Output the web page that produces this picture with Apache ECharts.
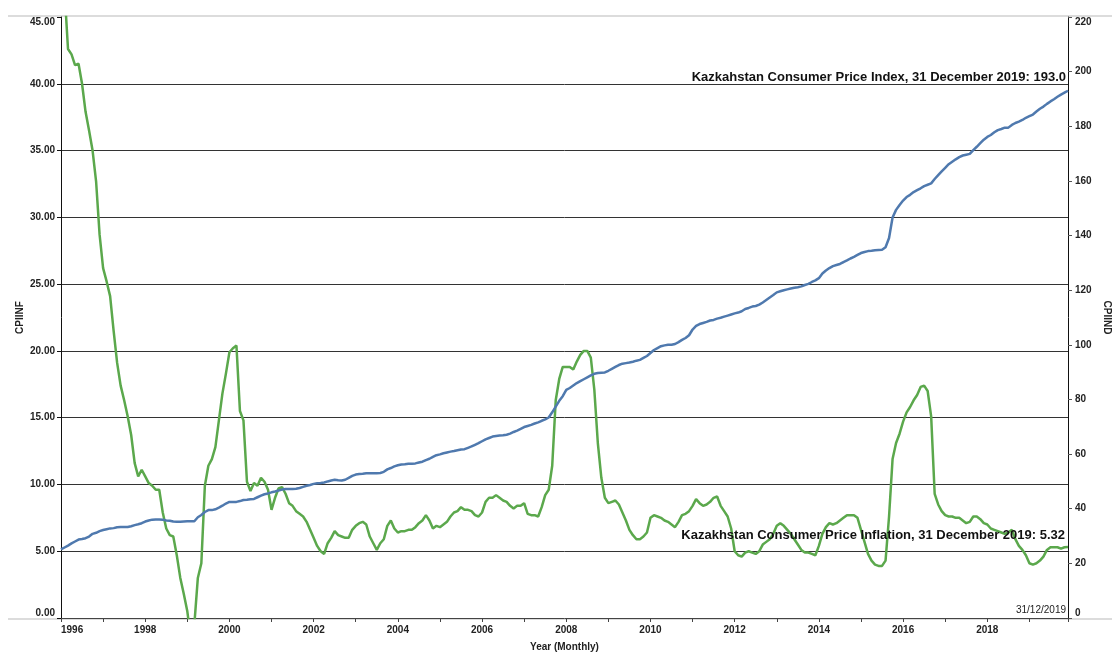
<!DOCTYPE html>
<html lang="en">

<head>
  <meta charset="UTF-8" />
  <title>Kazakhstan CPI</title>
  <style>
    html, body { margin: 0; padding: 0; background: #fff; }
  </style>
</head>

<body>
  <div id="main" style="width: 1112px; height: 652px;"></div>
  <script src="https://cdn.jsdelivr.net/npm/echarts@6/dist/echarts.min.js"></script>
  <script type="text/javascript">
    // monthly series, Jan 1996 .. Dec 2019
    const startYear = 1996

    // CPIINF - consumer price inflation, % (left axis)
    const cpiInf = [
      60, 47, 42.6, 42.2, 41.4, 41.5, 40.0, 37.9, 36.5, 35.0, 32.7, 28.7,
      26.2, 25.2, 24.1, 21.5, 19.1, 17.4, 16.3, 15.1, 13.7, 11.6, 10.6, 11.1,
      10.6, 10.1, 9.9, 9.6, 9.6, 7.9, 6.7, 6.2, 6.1, 4.7, 3.0, 1.8,
      0.5, -1.5, -0.5, 3.0, 4.1, 9.9, 11.4, 11.9, 12.8, 14.8, 16.8, 18.3,
      19.9, 20.2, 20.4, 15.5, 14.8, 10.2, 9.5, 10.1, 9.9, 10.5, 10.2, 9.6,
      8.1, 9.0, 9.7, 9.8, 9.3, 8.6, 8.4, 8.0, 7.8, 7.6, 7.2, 6.6,
      6.0, 5.4, 5.0, 4.8, 5.6, 6.0, 6.5, 6.2, 6.1, 6.0, 6.0, 6.6,
      6.9, 7.1, 7.2, 7.0, 6.1, 5.6, 5.1, 5.6, 5.9, 6.9, 7.3, 6.7,
      6.4, 6.5, 6.5, 6.6, 6.6, 6.8, 7.1, 7.3, 7.7, 7.3, 6.7, 6.9,
      6.8, 7.0, 7.2, 7.6, 7.9, 8.0, 8.3, 8.1, 8.1, 8.0, 7.7, 7.6,
      7.9, 8.7, 9.0, 9.0, 9.2, 9.0, 8.8, 8.7, 8.4, 8.2, 8.4, 8.4,
      8.6, 7.8, 7.7, 7.7, 7.6, 8.3, 9.2, 9.6, 11.4, 16.3, 17.9, 18.8,
      18.8, 18.8, 18.6, 19.2, 19.7, 20.0, 20.0, 19.5, 17.1, 13.1, 10.5, 9.0,
      8.6, 8.7, 8.8, 8.5, 7.9, 7.3, 6.6, 6.2, 5.9, 5.9, 6.1, 6.4,
      7.5, 7.7, 7.6, 7.5, 7.3, 7.2, 7.0, 6.8, 7.2, 7.7, 7.8, 8.0,
      8.4, 8.9, 8.6, 8.4, 8.5, 8.7, 9.0, 9.1, 8.4, 8.0, 7.6, 6.7,
      5.0, 4.7, 4.6, 4.9, 5.0, 4.9, 4.8, 5.0, 5.5, 5.7, 5.9, 6.3,
      6.9, 7.1, 6.9, 6.6, 6.3, 5.9, 5.5, 5.1, 4.9, 4.9, 4.8, 4.7,
      5.4, 6.3, 6.8, 7.1, 7.0, 7.1, 7.3, 7.5, 7.7, 7.7, 7.7, 7.5,
      6.6, 5.7, 4.8, 4.3, 4.0, 3.9, 3.9, 4.3, 7.6, 11.9, 13.1, 13.8,
      14.7, 15.4, 15.8, 16.3, 16.7, 17.3, 17.4, 17.0, 15.1, 9.3, 8.5, 8.0,
      7.7, 7.6, 7.6, 7.5, 7.5, 7.3, 7.1, 7.2, 7.6, 7.6, 7.4, 7.1,
      7.0, 6.7, 6.6, 6.5, 6.4, 6.3, 6.4, 6.6, 5.9, 5.4, 5.1, 4.7,
      4.1, 4.0, 4.1, 4.3, 4.6, 5.1, 5.3, 5.3, 5.3, 5.2, 5.3, 5.32
    ]

    // CPIIND - consumer price index (right axis)
    const cpiInd = [
      25.1, 25.8, 26.5, 27.3, 28.0, 28.7, 28.9, 29.2, 29.8, 30.8, 31.2, 31.8,
      32.2, 32.5, 32.8, 32.9, 33.2, 33.3, 33.3, 33.3, 33.6, 34.0, 34.3, 34.7,
      35.3, 35.7, 36.0, 36.1, 36.1, 36.0, 35.7, 35.6, 35.3, 35.2, 35.2, 35.3,
      35.4, 35.4, 35.4, 36.9, 37.7, 38.8, 39.5, 39.5, 39.8, 40.4, 41.1, 41.9,
      42.5, 42.5, 42.5, 42.8, 43.2, 43.3, 43.5, 43.6, 44.2, 44.8, 45.3, 45.6,
      46.0, 46.3, 46.7, 47.0, 47.2, 47.2, 47.2, 47.3, 47.6, 48.0, 48.4, 48.7,
      49.1, 49.3, 49.4, 49.6, 50.0, 50.3, 50.6, 50.4, 50.3, 50.6, 51.3, 52.0,
      52.5, 52.7, 52.8, 53.0, 53.0, 53.0, 53.0, 53.1, 53.5, 54.4, 54.9, 55.5,
      55.9, 56.2, 56.3, 56.5, 56.5, 56.6, 56.9, 57.2, 57.8, 58.3, 59.0, 59.6,
      59.9, 60.3, 60.6, 60.9, 61.1, 61.4, 61.7, 61.8, 62.3, 62.8, 63.4, 64.0,
      64.7, 65.4, 65.9, 66.4, 66.6, 66.8, 66.9, 67.1, 67.5, 68.1, 68.6, 69.2,
      69.9, 70.3, 70.7, 71.2, 71.6, 72.2, 72.7, 73.4, 75.3, 77.4, 79.5, 81.2,
      83.5, 84.2, 85.1, 86.0, 86.7, 87.4, 88.1, 88.8, 89.4, 89.7, 89.8, 89.9,
      90.5, 91.2, 91.9, 92.6, 93.1, 93.3, 93.5, 93.8, 94.2, 94.5, 95.2, 95.9,
      97.0, 98.1, 98.8, 99.5, 99.8, 100.0, 100.0, 100.3, 101.0, 101.8, 102.5, 103.5,
      105.6, 106.9, 107.6, 108.0, 108.4, 108.9, 109.1, 109.6, 109.9, 110.3, 110.7, 111.1,
      111.5, 111.8, 112.3, 113.1, 113.5, 114.0, 114.2, 114.7, 115.5, 116.4, 117.3, 118.2,
      119.2, 119.6, 120.0, 120.3, 120.6, 120.9, 121.1, 121.4, 121.9, 122.3, 123.0, 123.6,
      124.4, 126.1, 127.2, 128.1, 128.8, 129.2, 129.6, 130.3, 130.9, 131.6, 132.2, 132.9,
      133.6, 134.0, 134.3, 134.4, 134.6, 134.7, 134.8, 135.7, 139.1, 146.6, 149.4, 151.2,
      152.8, 154.1, 154.9, 155.9, 156.6, 157.3, 158.1, 158.6, 159.1, 160.7, 162.1, 163.5,
      164.8, 166.1, 167.0, 167.9, 168.7, 169.3, 169.6, 169.9, 171.3, 172.5, 173.8, 175.1,
      176.1, 176.8, 177.8, 178.6, 179.0, 179.5, 179.5, 180.5, 181.2, 181.7, 182.3, 183.1,
      183.7, 184.3, 185.4, 186.4, 187.2, 188.2, 189.1, 189.9, 190.8, 191.6, 192.3, 193.0
    ]

    const labelIndex = 'Kazkahstan Consumer Price Index, 31 December 2019: 193.0'
    const labelInflation = 'Kazakhstan Consumer Price Inflation, 31 December 2019: 5.32'
    const lastDate = '31/12/2019'

    const font = 'Arial, "Liberation Sans", sans-serif'
    // month index -> decimal year
    const toYear = i => startYear + i / 12
    const infData = cpiInf.map((v, i) => [toYear(i), v])
    const indData = cpiInd.map((v, i) => [toYear(i), v])
    const lastX = toYear(cpiInf.length - 1)

    let myChart = echarts.init(document.getElementById('main'))

    var option = {
      animation: false,
      backgroundColor: '#fff',
      grid: { left: 61, right: 44, top: 17, bottom: 34, containLabel: false, outerBoundsMode: 'none' },
      xAxis: {
        type: 'value',
        min: startYear,
        max: lastX,
        interval: 1,
        name: 'Year (Monthly)',
        nameLocation: 'middle',
        nameGap: 24,
        nameMoveOverlap: false,
        nameTextStyle: { fontFamily: font, fontWeight: 'bold', fontSize: 10, color: '#222' },
        axisLine: { lineStyle: { color: '#444', width: 1 } },
        axisTick: { length: 4, lineStyle: { color: '#444' } },
        splitLine: { show: false },
        axisLabel: {
          fontFamily: font, fontWeight: 'bold', fontSize: 10, color: '#222', margin: 7,
          alignMinLabel: 'left',
          formatter: v => (Number.isInteger(v) && v % 2 === 0) ? String(v) : ''
        }
      },
      yAxis: [
        {
          type: 'value',
          position: 'left',
          min: 0,
          max: 45,
          interval: 5,
          name: 'CPIINF',
          nameLocation: 'middle',
          nameGap: 36,
          nameMoveOverlap: false,
          nameTextStyle: { fontFamily: font, fontWeight: 'bold', fontSize: 10, color: '#222' },
          axisLine: { show: true, lineStyle: { color: '#111', width: 1 } },
          axisTick: { show: true, length: 4, lineStyle: { color: '#111' } },
          splitLine: { show: true, showMinLine: false, showMaxLine: false, lineStyle: { color: '#333', width: 1 } },
          axisLabel: {
            fontFamily: font, fontWeight: 'bold', fontSize: 10, color: '#222', margin: 6,
            verticalAlignMinLabel: 'bottom', verticalAlignMaxLabel: 'top',
            formatter: v => v.toFixed(2)
          }
        },
        {
          type: 'value',
          position: 'right',
          min: 0,
          max: 220,
          interval: 20,
          name: 'CPIIND',
          nameLocation: 'middle',
          nameRotate: -90,
          nameGap: 34,
          nameMoveOverlap: false,
          nameTextStyle: { fontFamily: font, fontWeight: 'bold', fontSize: 10, color: '#222' },
          axisLine: { show: true, lineStyle: { color: '#111', width: 1 } },
          axisTick: { show: true, length: 4, lineStyle: { color: '#555' } },
          splitLine: { show: false },
          axisLabel: {
            fontFamily: font, fontWeight: 'bold', fontSize: 10, color: '#222', margin: 7,
            verticalAlignMinLabel: 'bottom', verticalAlignMaxLabel: 'top'
          }
        }
      ],
      series: [
        {
          name: 'CPIINF',
          type: 'line',
          yAxisIndex: 0,
          data: infData,
          showSymbol: false,
          clip: true,
          lineStyle: { color: '#5ba84c', width: 2.5 },
          itemStyle: { color: '#5ba84c' },
          z: 3
        },
        {
          name: 'CPIIND',
          type: 'line',
          yAxisIndex: 1,
          data: indData,
          showSymbol: false,
          clip: true,
          lineStyle: { color: '#4f79ae', width: 2.5 },
          itemStyle: { color: '#4f79ae' },
          z: 4
        }
      ],
      graphic: [
        // light frame lines
        { type: 'line', z: -1, shape: { x1: 8, y1: 16, x2: 1112, y2: 16 }, style: { stroke: '#dcdcdc', lineWidth: 2 } },
        { type: 'line', z: -1, shape: { x1: 8, y1: 619, x2: 1112, y2: 619 }, style: { stroke: '#dcdcdc', lineWidth: 2 } },
        {
          type: 'text', right: 46, top: 71, z: 10,
          style: { text: labelIndex, fill: '#111', font: 'bold 13px ' + font }
        },
        {
          type: 'text', right: 47, top: 529, z: 10,
          style: { text: labelInflation, fill: '#111', font: 'bold 13px ' + font }
        },
        {
          type: 'text', right: 46, top: 605, z: 10,
          style: { text: lastDate, fill: '#222', font: '10px ' + font }
        }
      ]
    }

    myChart.setOption(option)
  </script>
</body>

</html>
